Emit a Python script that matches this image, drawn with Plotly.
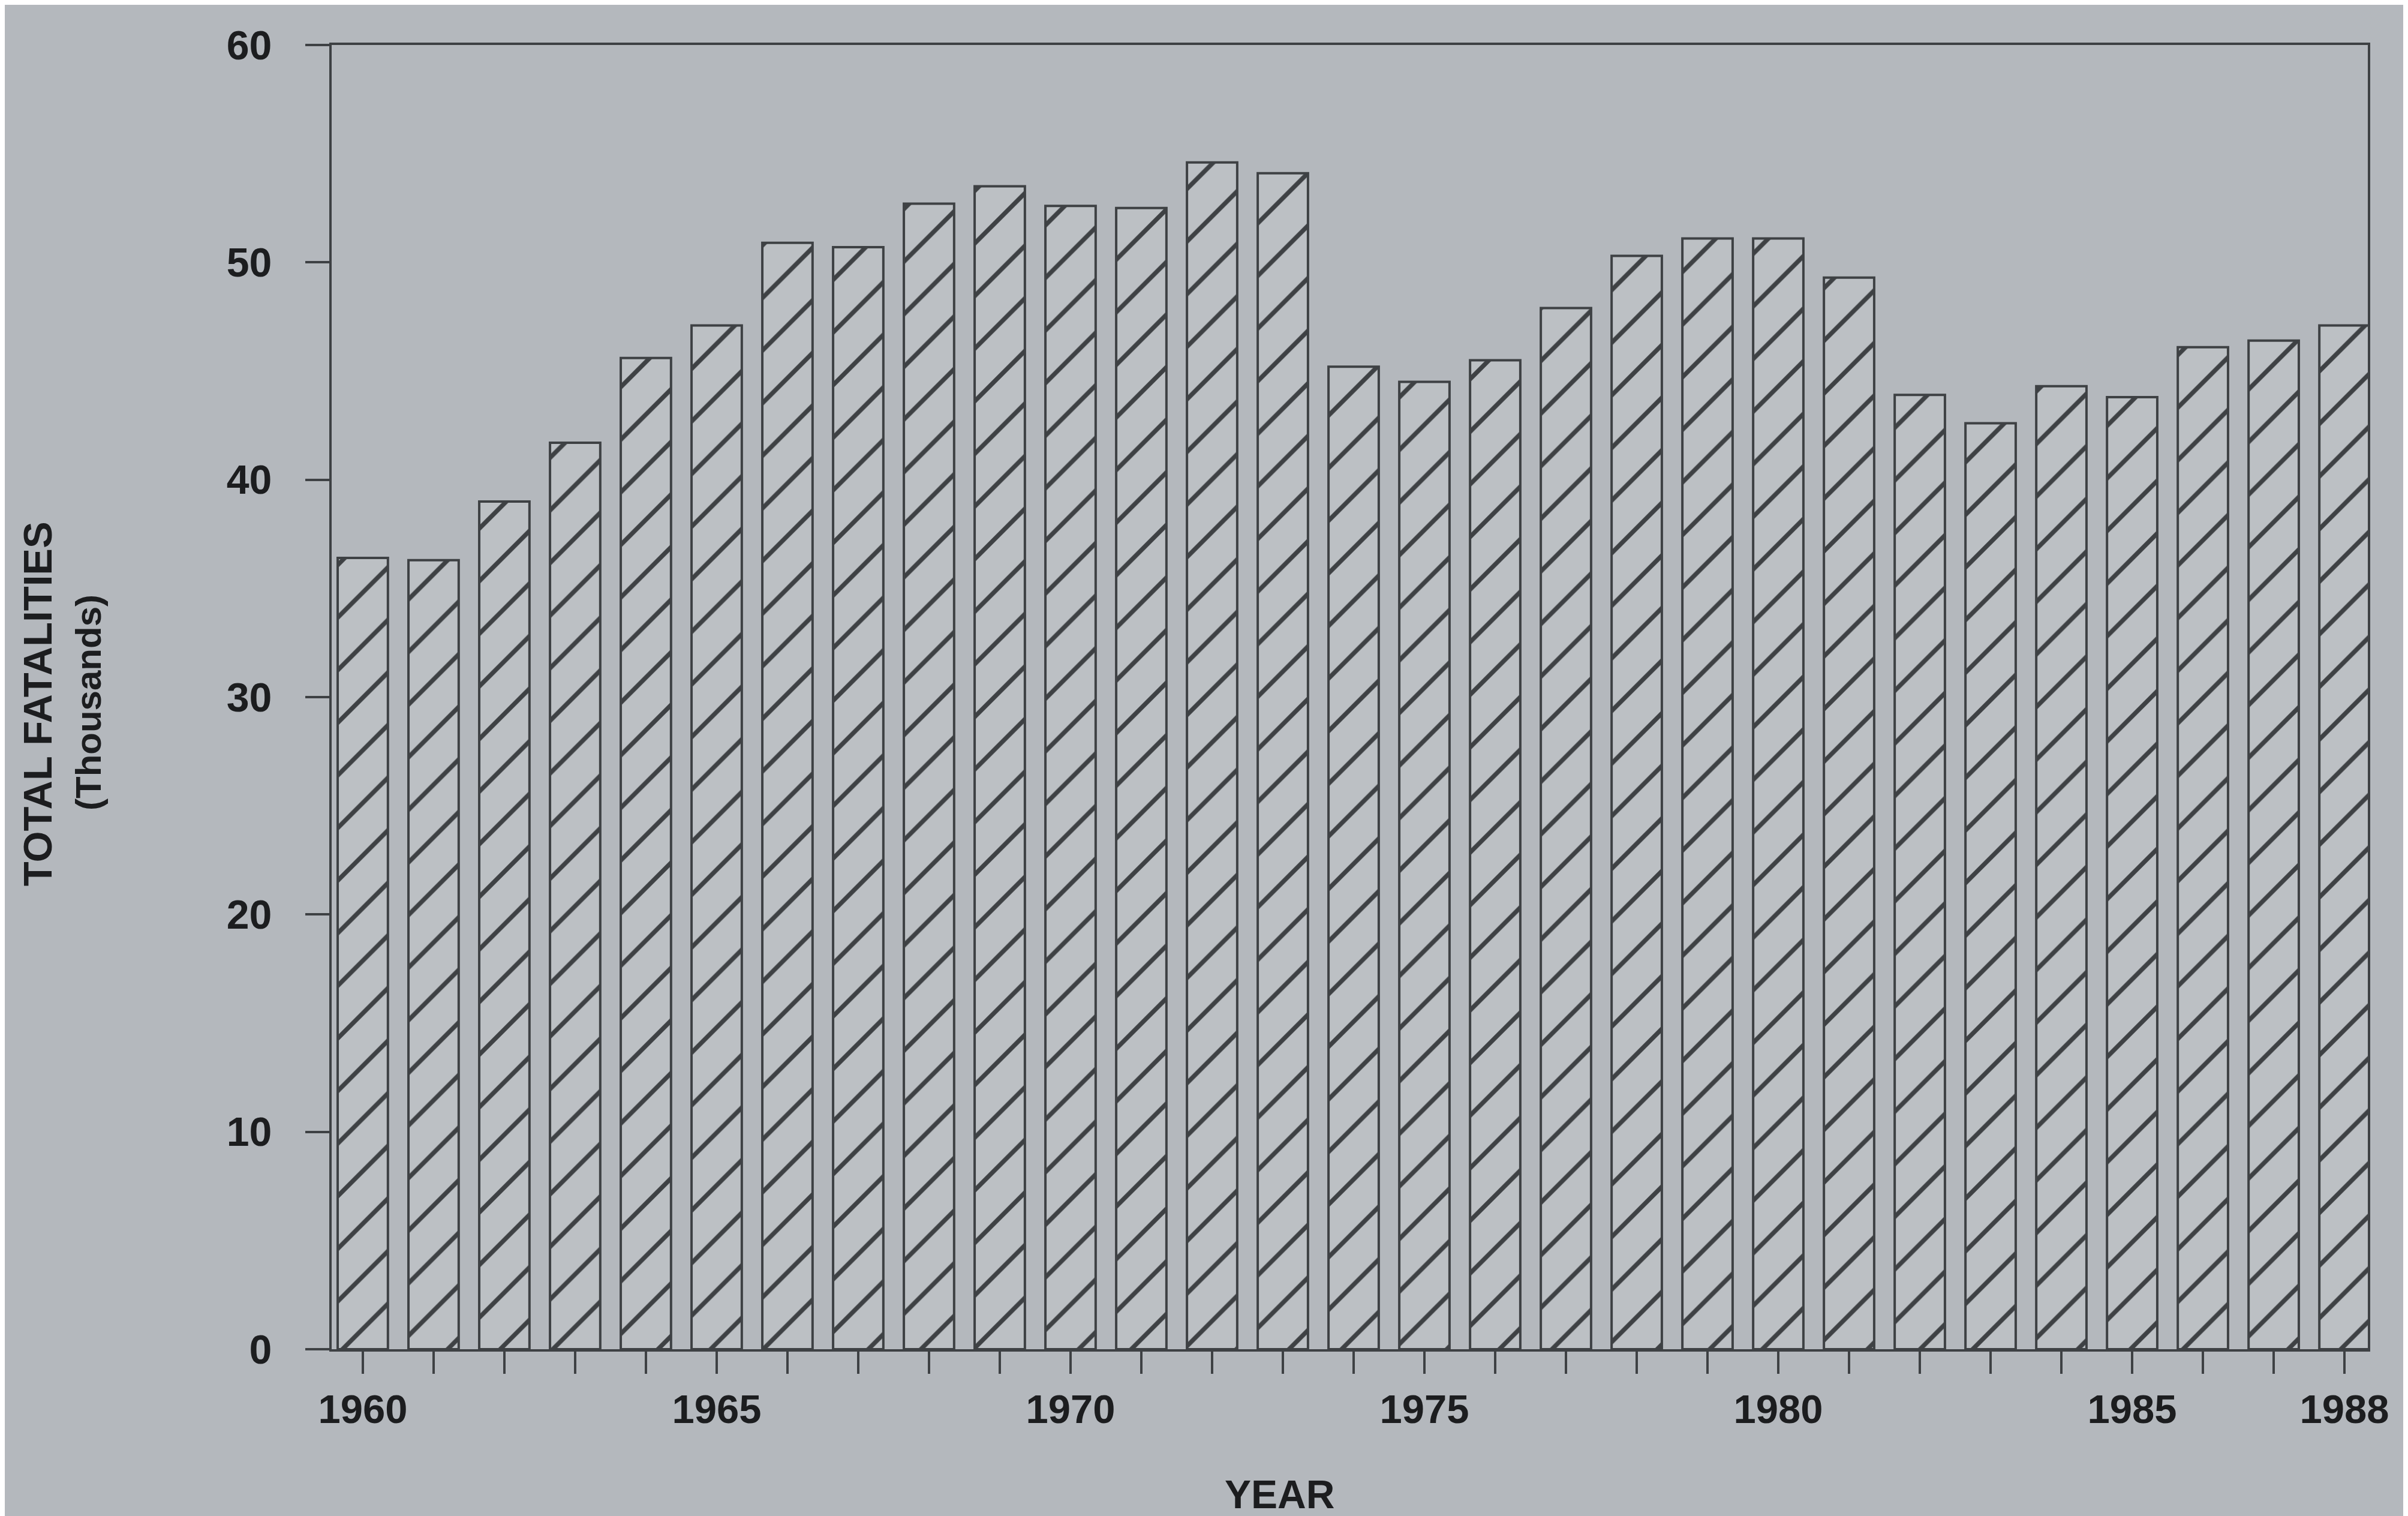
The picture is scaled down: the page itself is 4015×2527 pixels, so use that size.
import plotly.graph_objects as go

years = list(range(1960, 1989))
fatalities_thousands = [36.4, 36.3, 39.0, 41.7, 45.6, 47.1, 50.9, 50.7, 52.7, 53.5,
                        52.6, 52.5, 54.6, 54.1, 45.2, 44.5, 45.5, 47.9, 50.3, 51.1,
                        51.1, 49.3, 43.9, 42.6, 44.3, 43.8, 46.1, 46.4, 47.1]
x_tick_vals = years
x_tick_text = [str(y) if y in (1960, 1965, 1970, 1975, 1980, 1985, 1988) else "" for y in years]
y_tick_vals = [0, 10, 20, 30, 40, 50, 60]

BG = "#b4b8bd"
BAR = "#bcc0c4"
INK = "#3e4144"
TXT = "#1c1d1f"
FONT = "Liberation Sans"

fig = go.Figure()
fig.add_trace(go.Bar(
    x=years,
    y=fatalities_thousands,
    marker=dict(
        color=BAR,
        line=dict(color=INK, width=4),
        pattern=dict(shape="/", size=62, solidity=0.12, fgcolor=INK, bgcolor=BAR, fillmode="replace"),
    ),
    showlegend=False,
))

fig.update_layout(
    width=4015, height=2527,
    margin=dict(l=545, r=75, t=67, b=286),
    paper_bgcolor=BG, plot_bgcolor=BG,
    bargap=0.29,
    font=dict(family=FONT, color=TXT),
    xaxis=dict(
        range=[1959.56, 1988.33],
        tickmode="array", tickvals=x_tick_vals, ticktext=x_tick_text,
        ticks="outside", ticklen=37, tickwidth=4, tickcolor=INK,
        showline=True, linecolor=INK, linewidth=4, mirror=True,
        showgrid=False, zeroline=False,
        tickfont=dict(family=FONT, size=67, color=TXT, weight="bold"),
        ticklabelstandoff=2,
    ),
    yaxis=dict(
        range=[0, 60],
        tickmode="array", tickvals=y_tick_vals,
        ticks="outside", ticklen=40, tickwidth=4, tickcolor=INK,
        showline=True, linecolor=INK, linewidth=4, mirror=True,
        showgrid=False, zeroline=False,
        tickfont=dict(family=FONT, size=68, color=TXT, weight="bold"),
        ticklabelstandoff=42,
    ),
    annotations=[
        dict(text="YEAR", xref="paper", yref="paper", x=0.4654, y=-0.1115,
             showarrow=False, xanchor="center", yanchor="middle",
             font=dict(family=FONT, size=66, color=TXT, weight="bold")),
        dict(text="TOTAL FATALITIES", xref="paper", yref="paper", x=-0.1445, y=0.495,
             showarrow=False, xanchor="center", yanchor="middle", textangle=-90,
             font=dict(family=FONT, size=67, color=TXT, weight="bold")),
        dict(text="(Thousands)", xref="paper", yref="paper", x=-0.1195, y=0.496,
             showarrow=False, xanchor="center", yanchor="middle", textangle=-90,
             font=dict(family=FONT, size=60, color=TXT, weight="bold")),
    ],
)

fig.write_html("out.html")
